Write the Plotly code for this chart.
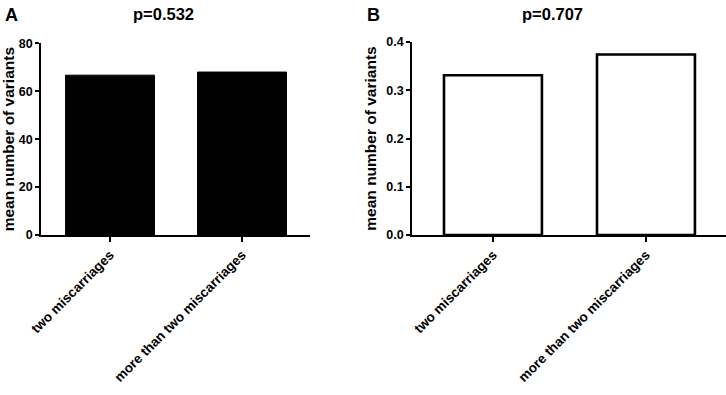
import plotly.graph_objects as go
from plotly.subplots import make_subplots

categories = ["two miscarriages", "more than two miscarriages"]
values_a = [66.7, 68.0]
values_b = [0.331, 0.374]
ticks_a = [0, 20, 40, 60, 80]
ticks_b = [0.0, 0.1, 0.2, 0.3, 0.4]
tick_labels_b = ["0.0", "0.1", "0.2", "0.3", "0.4"]
titles = ["p=0.532", "p=0.707"]
panel_letters = ["A", "B"]

W, H = 726, 395
T, B = 42, 160
PH = H - T - B

FONT = "Liberation Sans, Arial, sans-serif"

fig = make_subplots(rows=1, cols=2)

fig.add_trace(go.Bar(x=[0, 1], y=values_a, width=0.674,
                     marker=dict(color="black", line=dict(color="black", width=1)),
                     showlegend=False), row=1, col=1)
fig.add_trace(go.Bar(x=[0, 1], y=values_b, width=0.64,
                     marker=dict(color="white", line=dict(color="black", width=2.6)),
                     showlegend=False), row=1, col=2)

axis_common = dict(showline=True, linecolor="black", linewidth=1.6, showgrid=False,
                   zeroline=False, ticks="outside", tickcolor="black", tickwidth=1.5,
                   automargin=False,
                   tickfont=dict(family=FONT, size=12.5, color="black", weight="bold"))

fig.update_xaxes(**axis_common, tickmode="array", tickvals=[0, 1], ticktext=categories,
                 tickangle=-45, ticklen=5)
fig.update_xaxes(domain=[41 / W, 310 / W], range=[-0.523, 1.515], row=1, col=1)
fig.update_xaxes(domain=[412 / W, 1.0], range=[-0.529, 1.523], row=1, col=2)
fig.update_xaxes(tickfont=dict(size=13.5))

fig.update_yaxes(**axis_common, ticklen=4,
                 title=dict(text="mean number of variants",
                            font=dict(family=FONT, size=15.5, color="black", weight="bold"),
                            standoff=6))
fig.update_yaxes(range=[0, 80], tickvals=ticks_a, domain=[0, 1 - 1.3 / PH], row=1, col=1)
fig.update_yaxes(range=[0, 0.4], tickvals=ticks_b, ticktext=tick_labels_b,
                 tickmode="array", domain=[0, 1], row=1, col=2)

def py(p):
    return 1 + (T - p) / PH

title_x = [163 / W, 552 / W]
letter_x = [3 / W, 365 / W]
for i in range(2):
    fig.add_annotation(text=titles[i], x=title_x[i], y=py(14), xref="paper", yref="paper",
                       xanchor="center", yanchor="middle", showarrow=False,
                       font=dict(family=FONT, size=16.5, color="black", weight="bold"))
    fig.add_annotation(text=panel_letters[i], x=letter_x[i], y=py(15), xref="paper", yref="paper",
                       xanchor="left", yanchor="middle", showarrow=False,
                       font=dict(family=FONT, size=18, color="black", weight="bold"))

fig.update_layout(width=W, height=H, margin=dict(l=0, r=0, t=T, b=B),
                  plot_bgcolor="white", paper_bgcolor="white", bargap=0.3)

fig.write_html("out.html", config={"displayModeBar": False},
               post_script="document.body.style.margin='0';document.body.style.overflow='hidden';")
